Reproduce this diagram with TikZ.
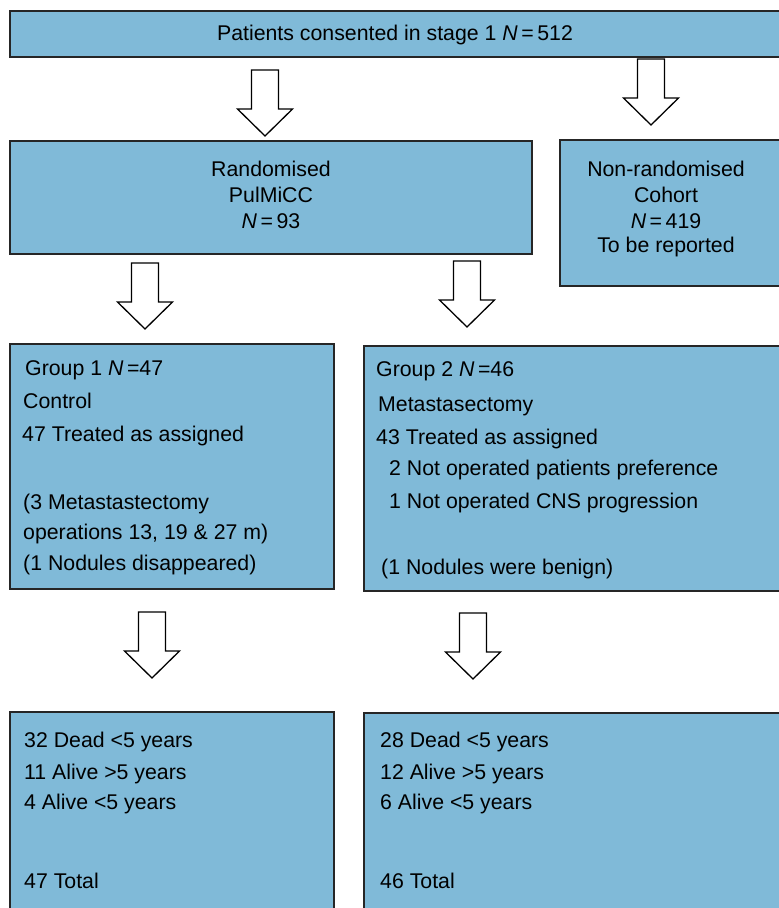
\documentclass[tikz,border=0pt]{standalone}
\usepackage{fontspec}
\setmainfont{Liberation Sans}
\definecolor{boxblue}{RGB}{128,186,216}
\tikzset{
  box/.style={draw=black!85, line width=1.6pt, fill=boxblue, anchor=north west, inner sep=0pt},
  txt/.style={anchor=base west, inner sep=0pt, font=\fontsize{21.3}{25}\selectfont},
  ctxt/.style={anchor=base, inner sep=0pt, font=\fontsize{21.3}{25}\selectfont},
  blockarrow/.style={draw=black, line width=1.3pt, fill=white, line join=miter}
}

\begin{document}
\begin{tikzpicture}[x=1pt, y=-1pt]
    \clip (0,0) rectangle (779,908);
    \fill[white] (0,0) rectangle (779,908);

    % draw boxes
    \node[box, minimum width=791pt, minimum height=46pt]  (consent)  at (9,10)   {};
    \node[box, minimum width=522pt, minimum height=113pt] (random)   at (9,140)  {};
    \node[box, minimum width=241pt, minimum height=146pt] (cohort)   at (559,139) {};
    \node[box, minimum width=324pt, minimum height=245pt] (groupone) at (9,343)  {};
    \node[box, minimum width=437pt, minimum height=245pt] (grouptwo) at (363,345) {};
    \node[box, minimum width=324pt, minimum height=220pt] (outone)   at (9,711)  {};
    \node[box, minimum width=437pt, minimum height=220pt] (outtwo)   at (363,712) {};

    % draw block arrows
    \foreach \x/\y in {265/70, 651/59, 145/263, 467/261, 152/612, 473/613}
      \draw[blockarrow] (\x-13.5,\y) -- (\x+13.5,\y) -- (\x+13.5,\y+39) -- (\x+27.5,\y+39)
        -- (\x,\y+66) -- (\x-27.5,\y+39) -- (\x-13.5,\y+39) -- cycle;

    % draw centered texts
    \node[ctxt] (consenttxt) at (395,40.5) {Patients consented in stage 1 \textit{N}\,=\,512};
    \node[ctxt] (randomone)   at (271,176) {Randomised};
    \node[ctxt] (randomtwo)   at (271,202) {PulMiCC};
    \node[ctxt] (randomthree) at (271,228) {\textit{N}\,=\,93};
    \node[ctxt] (cohortone)   at (666,176) {Non-randomised};
    \node[ctxt] (cohorttwo)   at (666,202) {Cohort};
    \node[ctxt] (cohortthree) at (666,228) {\textit{N}\,=\,419};
    \node[ctxt] (cohortfour)  at (666,252) {To be reported};

    % draw group texts
    \foreach \x/\y/\t [count=\i] in {25/375/{Group 1 \textit{N}\,=47}, 23/408/{Control},
        22/441/{47 Treated as assigned}, 23/509/{(3 Metastastectomy},
        23/539/{operations 13, 19 \& 27 m)}, 23/570/{(1 Nodules disappeared)}}
      \node[txt] (gone\i) at (\x,\y) {\t};
    \foreach \x/\y/\t [count=\i] in {376/376/{Group 2 \textit{N}\,=46}, 378/411/{Metastasectomy},
        376/444/{43 Treated as assigned}, 389/475/{2 Not operated patients preference},
        389/508/{1 Not operated CNS progression}, 381/574/{(1 Nodules were benign)}}
      \node[txt] (gtwo\i) at (\x,\y) {\t};

    % draw outcome texts
    \foreach \y/\t [count=\i] in {747/{32 Dead <5 years}, 779/{11 Alive >5 years},
        809/{4 Alive <5 years}, 888/{47 Total}}
      \node[txt] (oone\i) at (24,\y) {\t};
    \foreach \y/\t [count=\i] in {747/{28 Dead <5 years}, 779/{12 Alive >5 years},
        809/{6 Alive <5 years}, 888/{46 Total}}
      \node[txt] (otwo\i) at (380,\y) {\t};
\end{tikzpicture}
\end{document}
